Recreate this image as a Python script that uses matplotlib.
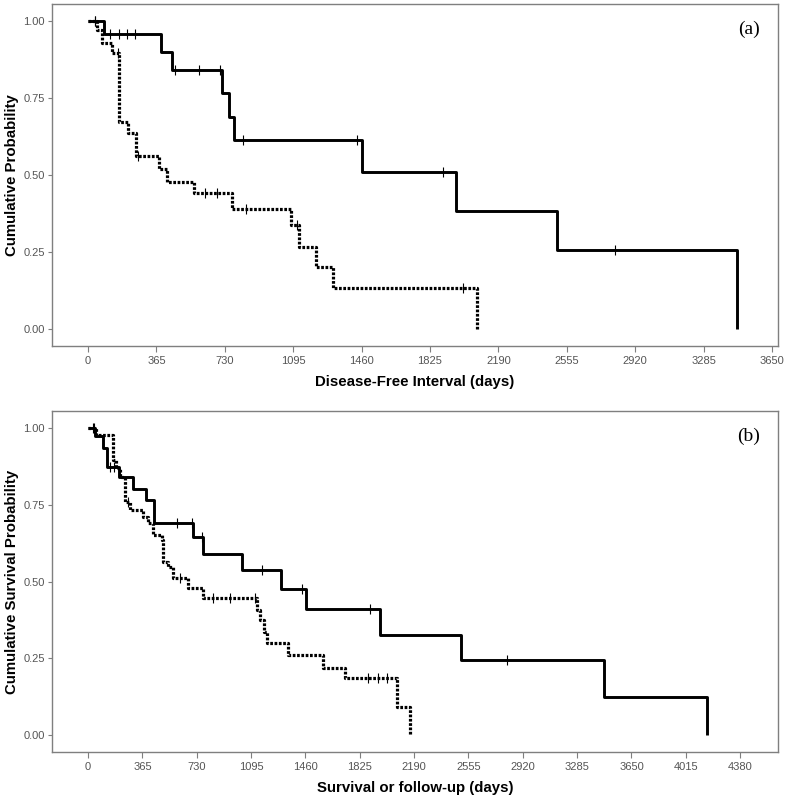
import matplotlib
matplotlib.use("Agg")
import matplotlib.pyplot as plt
import numpy as np

# ---------------- data ----------------
# Panel (a): disease-free interval
a_solid_event_t = [85, 387, 450, 715, 753, 780, 1464, 1963, 2502, 3463]
a_solid_surv    = [0.957, 0.899, 0.841, 0.766, 0.689, 0.613, 0.511, 0.383, 0.256, 0.0]
a_solid_cens    = [37, 117, 167, 208, 251, 464, 593, 705, 828, 1437, 1894, 2812]

a_dot_event_t = [50, 73, 126, 167, 212, 256, 380, 420, 567, 770, 1082, 1126, 1216, 1308, 2075]
a_dot_surv    = [0.97, 0.93, 0.897, 0.673, 0.636, 0.562, 0.52, 0.478, 0.44, 0.39,
                 0.338, 0.267, 0.20, 0.133, 0.0]
a_dot_cens    = [40, 160, 267, 624, 688, 842, 1118, 2000]

# Panel (b): overall survival
b_solid_event_t = [50, 100, 125, 208, 302, 390, 443, 707, 775, 1035, 1296, 1464,
                   1961, 2505, 3465, 4157]
b_solid_surv    = [0.974, 0.935, 0.873, 0.84, 0.80, 0.766, 0.69, 0.645, 0.59, 0.536,
                   0.475, 0.41, 0.326, 0.244, 0.124, 0.0]
b_solid_cens    = [40, 150, 175, 595, 700, 765, 1166, 1437, 1894, 2814]

b_dot_event_t = [55, 170, 190, 215, 248, 282, 371, 405, 438, 495, 506, 540, 573, 674,
                 775, 1133, 1157, 1180, 1204, 1340, 1577, 1728, 2074, 2163]
b_dot_surv    = [0.977, 0.896, 0.87, 0.84, 0.76, 0.733, 0.711, 0.69, 0.651, 0.635,
                 0.564, 0.547, 0.51, 0.478, 0.445, 0.407, 0.374, 0.336, 0.30, 0.26,
                 0.22, 0.186, 0.093, 0.0]
b_dot_cens    = [35, 269, 618, 840, 954, 1122, 1883, 1945, 2006]

a_xticks = [0, 365, 730, 1095, 1460, 1825, 2190, 2555, 2920, 3285, 3650]
b_xticks = [0, 365, 730, 1095, 1460, 1825, 2190, 2555, 2920, 3285, 3650, 4015, 4380]
yticks = [0.0, 0.25, 0.5, 0.75, 1.0]

# ---------------- drawing ----------------
GRAY = "#7f7f7f"
TICKC = "#555555"
DOT = (0, (0.85, 0.5))

def steps(ev_t, ev_s):
    x = np.concatenate([[0.0], np.asarray(ev_t, float)])
    y = np.concatenate([[1.0], np.asarray(ev_s, float)])
    return x, y

def surv_at(ev_t, ev_s, t):
    x, y = steps(ev_t, ev_s)
    idx = np.searchsorted(x, t, side="right") - 1
    return y[idx]

def draw_curve(ax, ev_t, ev_s, cens, ls, lw):
    x, y = steps(ev_t, ev_s)
    ax.step(x, y, where="post", color="black", lw=lw, linestyle=ls,
            solid_capstyle="butt", dash_capstyle="butt")
    cy = [surv_at(ev_t, ev_s, c) for c in cens]
    ax.plot(cens, cy, linestyle="none", marker="|", markersize=7,
            markeredgewidth=0.8, color="black")

def style_axes(ax, xticks, xlim, xlabel, ylabel, tag):
    ax.set_xlim(*xlim)
    ax.set_ylim(-0.055, 1.055)
    ax.set_xticks(xticks)
    ax.set_xticklabels([str(t) for t in xticks])
    ax.set_yticks(yticks)
    ax.set_yticklabels(["%.2f" % v for v in yticks])
    for s in ax.spines.values():
        s.set_color(GRAY)
        s.set_linewidth(1.0)
    ax.tick_params(axis="both", direction="out", color=GRAY, labelcolor=TICKC,
                   labelsize=8, width=0.8)
    ax.tick_params(axis="x", length=4, pad=3)
    ax.tick_params(axis="y", length=3, pad=2)
    ax.set_xlabel(xlabel, fontsize=10.8, fontweight="bold", labelpad=7)
    ax.set_ylabel(ylabel, fontsize=10.8, fontweight="bold", labelpad=3)
    ax.text(0.975, 0.925, tag, transform=ax.transAxes, ha="right", va="center",
            fontsize=14, family="Liberation Serif")

plt.rcParams["font.family"] = ["Liberation Sans", "DejaVu Sans"]

fig = plt.figure(figsize=(7.85, 8.0), dpi=100)
ax1 = fig.add_axes([52/785, 1-346/800, (778-52)/785, (346-4)/800])
ax2 = fig.add_axes([52/785, 1-752/800, (778-52)/785, (752-411)/800])

draw_curve(ax1, a_solid_event_t, a_solid_surv, a_solid_cens, "-", 2.1)
draw_curve(ax1, a_dot_event_t, a_dot_surv, a_dot_cens, DOT, 2.3)
style_axes(ax1, a_xticks, (-192, 3682), "Disease-Free Interval (days)",
           "Cumulative Probability", "(a)")

draw_curve(ax2, b_solid_event_t, b_solid_surv, b_solid_cens, "-", 2.1)
draw_curve(ax2, b_dot_event_t, b_dot_surv, b_dot_cens, DOT, 2.3)
style_axes(ax2, b_xticks, (-242, 4634), "Survival or follow-up (days)",
           "Cumulative Survival Probability", "(b)")

fig.savefig("out.png", dpi=100, facecolor="white")
